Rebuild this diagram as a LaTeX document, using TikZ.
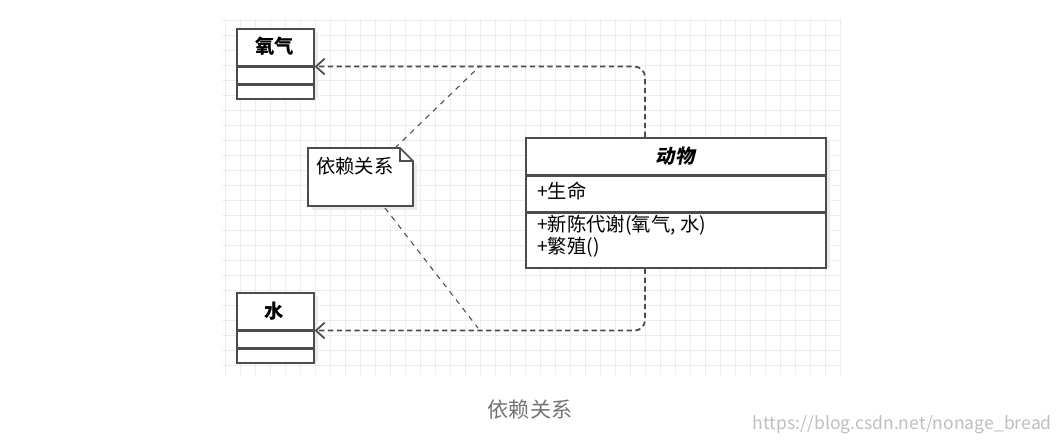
\documentclass[tikz,border=0pt]{standalone}
\usepackage{fontspec}
\setmainfont{Noto Sans CJK SC}
\usetikzlibrary{arrows.meta,shapes.misc,calc}
\begin{document}
\begin{tikzpicture}[x=0.02cm,y=-0.02cm,
    part/.style={rectangle, draw=black!70, line width=0.9pt, fill=white, inner sep=0pt, anchor=north west},
    shadowbox/.style={fill=black!8},
    dep/.style={-{Straight Barb[length=5pt,width=9pt]}, densely dashed, line width=1pt, black!70, rounded corners=6pt},
    notelink/.style={dashed, line width=0.6pt, black!70},
    gridline/.style={black!7, line width=0.4pt}
]
\useasboundingbox (0,0) rectangle (1063,442);

% grille de fond
\foreach \x in {225,240,...,840} \draw[gridline] (\x,18) -- (\x,375);
\foreach \y in {20,35,...,375} \draw[gridline] (222,\y) -- (840,\y);

% ombres
\fill[shadowbox] (240,32) rectangle (318,99);
\fill[shadowbox] (240,296) rectangle (318,362);
\fill[shadowbox] (529,141) rectangle (830,268);

% classe Oxygene
\node[part, minimum width=1.54cm, minimum height=0.74cm] (o2head) at (236,28) {};
\node[font=\bfseries\fontsize{11}{13}\selectfont] (o2name) at (274.5,46) {氧气};
\node[part, minimum width=1.54cm, minimum height=0.32cm] (o2attr) at (o2head.south west) {};
\node[part, minimum width=1.54cm, minimum height=0.28cm] (o2op) at (o2attr.south west) {};

% classe Eau
\node[part, minimum width=1.54cm, minimum height=0.74cm] (waterhead) at (236,292) {};
\node[font=\bfseries\fontsize{11}{13}\selectfont] (watername) at (274.5,311) {水};
\node[part, minimum width=1.54cm, minimum height=0.32cm] (waterattr) at (waterhead.south west) {};
\node[part, minimum width=1.54cm, minimum height=0.28cm] (waterop) at (waterattr.south west) {};

% classe Animal
\node[part, minimum width=6cm, minimum height=0.74cm] (animalhead) at (525,137) {};
\node[font=\itshape\bfseries\fontsize{11}{13}\selectfont] (animalname) at (675,156) {\addfontfeature{FakeSlant=0.2}动物};
\node[part, minimum width=6cm, minimum height=0.70cm] (animalattr) at (animalhead.south west) {};
\node[anchor=west, font=\fontsize{11}{13}\selectfont] (life) at (531,191) {+生命};
\node[part, minimum width=6cm, minimum height=1.1cm] (animalop) at (animalattr.south west) {};
\node[anchor=west, font=\fontsize{11}{13}\selectfont] (meta) at (531,225) {+新陈代谢(氧气, 水)};
\node[anchor=west, font=\fontsize{11}{13}\selectfont] (breed) at (531,247) {+繁殖()};

% note
\node[inner sep=0pt] (note) at (360.5,177) {};
\fill[shadowbox] (312,152) -- (404,152) -- (417,165) -- (417,210) -- (312,210) -- cycle;
\draw[line width=0.9pt, black!70, fill=white] (308,148) -- (400,148) -- (413,161) -- (413,206) -- (308,206) -- cycle;
\draw[line width=0.6pt, black!70] (400,148) -- (400,161) -- (413,161);
\node[anchor=north west, font=\fontsize{11}{13}\selectfont] (notetext) at (310,151) {依赖关系};

% dependances
\coordinate (topbend) at (645,66);
\coordinate (botbend) at (645,328);
\draw[dep] ($(animalhead.north west)+(120,0)$) |- (o2attr.north east);
\draw[dep] ($(animalop.south west)+(120,0)$) |- (waterattr.north east);
\draw[notelink] (395,148) -- (480,66);
\draw[notelink] (385,208) -- (478,328);

% legende
\node[font=\fontsize{12}{14}\selectfont, text=black!55] (caption) at (530,410) {依赖关系};
\node[font=\fontsize{10}{12}\selectfont, text=black!25, anchor=east] (mark) at (1058,425) {https://blog.csdn.net/nonage\_bread};
\end{tikzpicture}
\end{document}
